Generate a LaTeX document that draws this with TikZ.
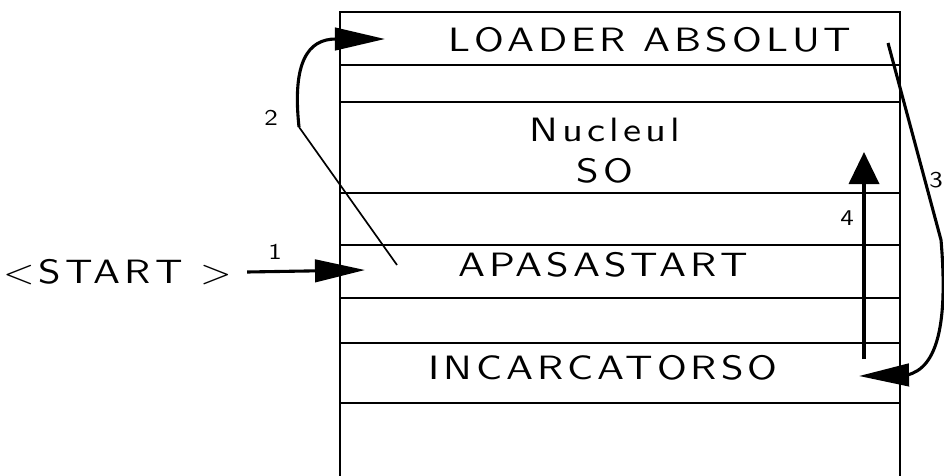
\documentclass[tikz,border=0pt]{standalone}
\usepackage{fontspec}
\newfontfamily\cadfont{lmsans10-regular.otf}[LetterSpace=12, FakeStretch=1.2]
\usepackage{tikz}
\usetikzlibrary{arrows.meta, positioning}
\tikzset{
    cell/.style={inner sep=0pt, font=\cadfont\fontsize{24}{29}\selectfont, align=center},
    tag/.style={inner sep=0pt, font=\cadfont\fontsize{16}{18}\selectfont},
    frame/.style={line width=0.8pt},
    arrow/.style={line width=2.2pt, -{Triangle[length=1.25cm, width=0.56cm]}},
    uparrow/.style={line width=2.6pt, -{Triangle[length=0.8cm, width=0.75cm]}},
    thinline/.style={line width=1.2pt}
}
\begin{document}
\begin{tikzpicture}[x=0.025cm, y=-0.025cm]
        \useasboundingbox (0,0) rectangle (944,475);

        % Memory map
        \draw[frame] (340,476) -- (340,12) -- (900,12) -- (900,476);
        \foreach \y in {65,102,193,245,298,343,403}
            \draw[frame] (340,\y) -- (900,\y);

        \node (M_loader) [cell] at (650,40) {LOADER ABSOLUT};
        \node (M_nucleu) [cell] at (605,151) {Nucleul\\SO};
        \node (M_apasa) [cell] at (603,265) {APASASTART};
        \node (M_incarc) [cell] at (603,368) {INCARCATORSO};

        % Start
        \node (S_start) [cell, anchor=east] at (232,272) {<START >};
        \coordinate (A1_to) at (365,270);
        \draw[arrow] ([xshift=0.38cm]S_start.east) -- (A1_to);
        \node (T_one) [tag] at (275,252) {1};

        % APASASTART -> LOADER
        \coordinate (A2_from) at (397,265);
        \coordinate (A2_bend) at (299,127);
        \coordinate (A2_to) at (385,39);
        \draw[thinline] (A2_from) -- (A2_bend);
        \draw[arrow] (A2_bend) .. controls (292,62) and (308,39) .. (A2_to);
        \node (T_two) [tag] at (271,118) {2};

        % LOADER -> INCARCATORSO
        \coordinate (A3_from) at (888,43);
        \coordinate (A3_to) at (859,376);
        \draw[arrow] (A3_from) -- (941,240) .. controls (948,322) and (938,368) .. (907,375) -- (A3_to);
        \node (T_three) [tag] at (936,180) {3};

        % INCARCATORSO -> Nucleul
        \coordinate (A4_from) at (864,359);
        \coordinate (A4_to) at (864,152);
        \draw[uparrow] (A4_from) -- (A4_to);
        \node (T_four) [tag] at (847,218) {4};
    \end{tikzpicture}
\end{document}
